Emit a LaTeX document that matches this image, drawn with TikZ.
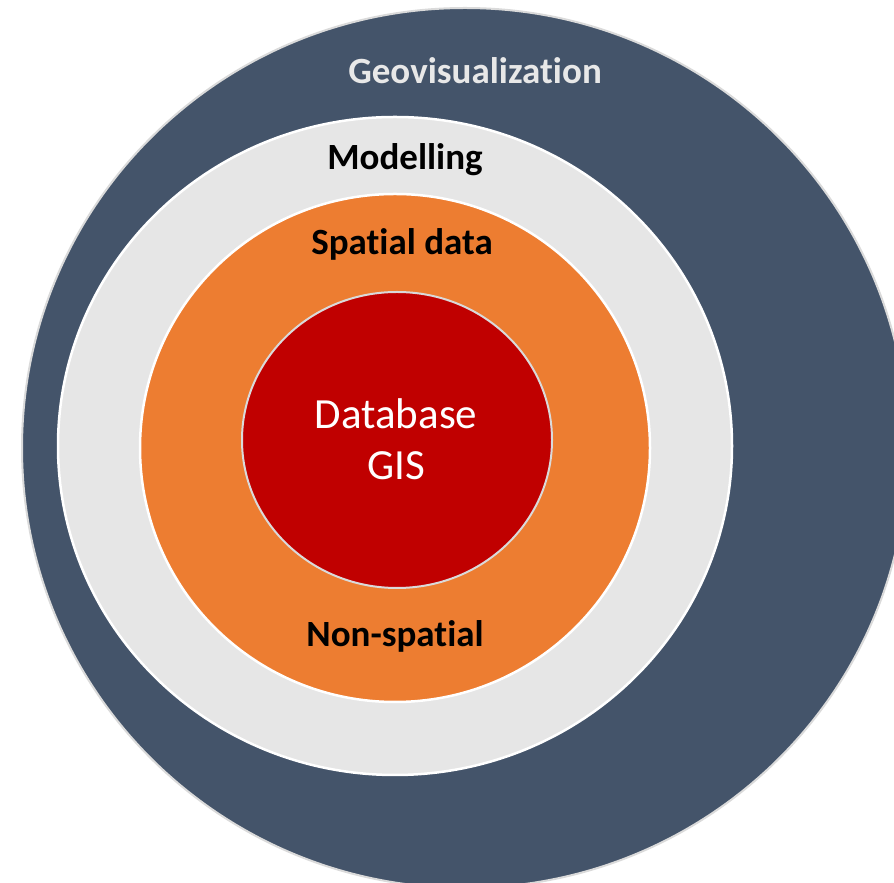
\documentclass[tikz,border=0pt]{standalone}
\usepackage{fontspec}
\setmainfont{Carlito}[Ligatures={NoCommon}]
\definecolor{slate}{HTML}{44546A}
\definecolor{ringgray}{HTML}{E6E6E6}
\definecolor{ringorange}{HTML}{ED7D31}
\definecolor{corered}{HTML}{C00000}
\definecolor{rimgray}{HTML}{DADADA}
\definecolor{lighttext}{HTML}{E8E8E8}
\tikzset{
  ringlabel/.style={font=\fontsize{37}{44}\selectfont\bfseries, anchor=base, inner sep=0pt},
  corelabel/.style={font=\fontsize{43}{50}\selectfont, text=white, anchor=base, inner sep=0pt}
}
\begin{document}
\begin{tikzpicture}[x=1pt,y=1pt]
  \useasboundingbox (0,0) rectangle (894,883);
  \fill[white] (0,0) rectangle (894,883);
  \begin{scope}
    \clip (0,0) rectangle (894,883);
    % nested rings, outermost first
    \filldraw[fill=slate, draw=rimgray, line width=2pt] (465,435) ellipse [x radius=443, y radius=440];
    \filldraw[fill=ringgray, draw=white, line width=2.5pt] (395,437) ellipse [x radius=337, y radius=329];
    \filldraw[fill=ringorange, draw=white, line width=2.5pt] (395,435) ellipse [x radius=255, y radius=254];
    \filldraw[fill=corered, draw=rimgray, line width=2pt] (397,443) ellipse [x radius=155, y radius=148];
  \end{scope}
  % ring labels
  \node[ringlabel, text=lighttext] (geo) at (475,799) {Geovisualization};
  \node[ringlabel] (model) at (405,713) {Modelling};
  \node[ringlabel] (spatial) at (402,628) {Spatial data};
  \node[ringlabel] (nonspatial) at (395,236) {Non-spatial};
  \node[corelabel] (db) at (396,454) {Database};
  \node[corelabel] (gis) at (396,403) {GIS};
\end{tikzpicture}
\end{document}
